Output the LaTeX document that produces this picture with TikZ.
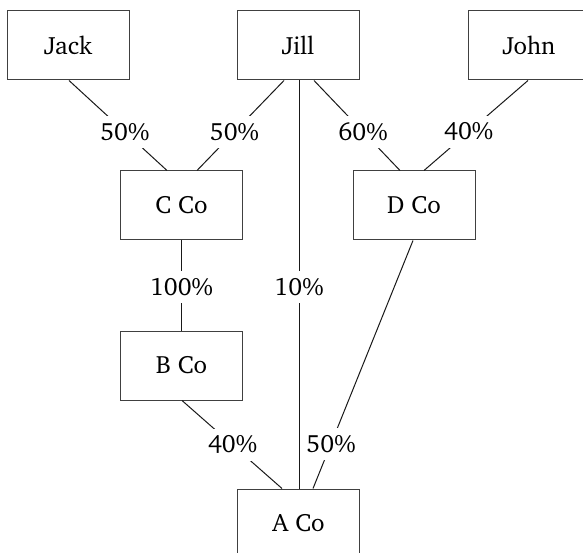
\documentclass[tikz,border=0pt]{standalone}
\usepackage[T1]{fontenc}
\usepackage{charter}
\usepackage{tikz}

\begin{document}
\begin{tikzpicture}[x=1pt, y=-1pt,
    every node/.style={font=\fontsize{25}{30}\selectfont, text=black},
    owner/.style={draw=black!75, line width=1pt, minimum width=122pt, minimum height=69pt, inner sep=0pt},
    share/.style={fill=white, inner xsep=4pt, inner ysep=7pt},
    link/.style={line width=1pt, black!90}]
  \useasboundingbox (0,0) rectangle (583,553);

  % people at the top
  \node[owner] (jack) at (68,45.5) {Jack};
  \node[owner] (jill) at (298,45.5) {Jill};
  \node[owner] (john) at (529,45.5) {John};

  % companies
  \node[owner] (cco) at (181.5,205.5) {C Co};
  \node[owner] (dco) at (414,205.5) {D Co};
  \node[owner] (bco) at (181.5,365.5) {B Co};
  \node[owner] (aco) at (298.5,523.5) {A Co};

  % holdings
  \draw[link] ([xshift=1pt]jack.south) -- node[share, pos=0.57] {50\%} ([xshift=-14.5pt]cco.north);
  \draw[link] ([xshift=-14pt]jill.south) -- node[share, pos=0.57] {50\%} ([xshift=15.5pt]cco.north);
  \draw[link] ([xshift=1pt]jill.south) -- node[share, pos=0.506] {10\%} ([xshift=0.5pt]aco.north);
  \draw[link] ([xshift=16pt]jill.south) -- node[share, pos=0.57] {60\%} ([xshift=-14pt]dco.north);
  \draw[link] ([xshift=-1pt]john.south) -- node[share, pos=0.57] {40\%} ([xshift=10pt]dco.north);
  \draw[link] (cco.south) -- node[share, pos=0.516] {100\%} (bco.north);
  \draw[link] ([xshift=0.5pt]bco.south) -- node[share, pos=0.506] {40\%} ([xshift=-16.5pt]aco.north);
  \draw[link] ([xshift=-1pt]dco.south) -- node[share, pos=0.82] {50\%} ([xshift=14.5pt]aco.north);
\end{tikzpicture}
\end{document}
